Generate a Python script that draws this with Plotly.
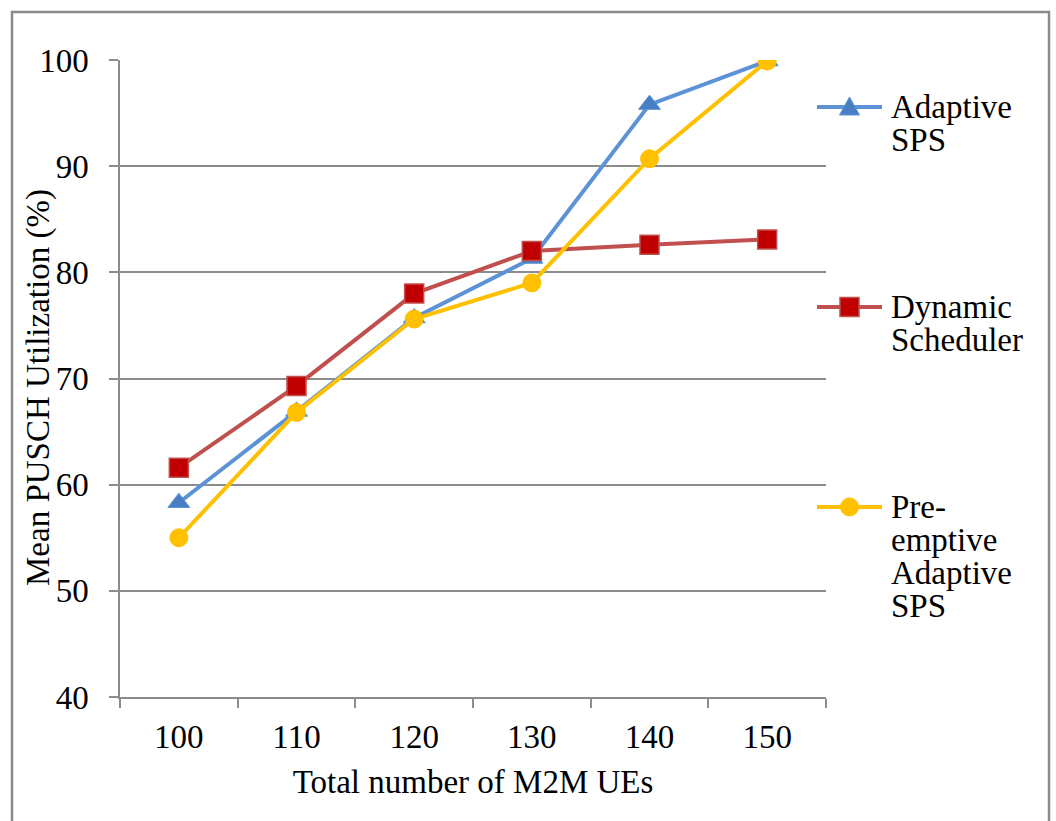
import plotly.graph_objects as go

# Number of M2M UEs (categorical x axis)
ues = ["100", "110", "120", "130", "140", "150"]

# Mean PUSCH utilization (%) per scheduler
adaptive_sps = [58.3, 66.9, 75.7, 81.3, 95.8, 99.9]
dynamic_scheduler = [61.6, 69.3, 78.0, 82.0, 82.6, 83.1]
preemptive_sps = [55.0, 66.8, 75.6, 79.0, 90.7, 99.9]

y_ticks = [40, 50, 60, 70, 80, 90, 100]

# Legend labels, wrapped one word per line
legend_lines = [
    ["Adaptive", "SPS"],
    ["Dynamic", "Scheduler"],
    ["Pre-", "emptive", "Adaptive", "SPS"],
]

FONT = "Liberation Serif"
FS = 33
GRID = "#8c8c8c"

BLUE, BLUE_FILL = "#5B93D6", "#4A7EC4"
RED, RED_FILL = "#C0504D", "#C00000"
GOLD = "#FFC000"

# plot-area geometry in pixels
L, R, T, B = 120, 826, 60, 697
W, H = R - L, B - T


def px_x(x):
    return (x - L) / W


def px_y(y):
    return (B - y) / H


fig = go.Figure()

fig.add_trace(go.Scatter(
    x=ues, y=adaptive_sps, name="Adaptive SPS", mode="lines+markers",
    line=dict(color=BLUE, width=4),
    marker=dict(symbol="triangle-up", size=19, color=BLUE_FILL,
                line=dict(color=BLUE, width=1)),
))
fig.add_trace(go.Scatter(
    x=ues, y=dynamic_scheduler, name="Dynamic Scheduler", mode="lines+markers",
    line=dict(color=RED, width=4),
    marker=dict(symbol="square", size=19, color=RED_FILL,
                line=dict(color=RED, width=1.5)),
))
fig.add_trace(go.Scatter(
    x=ues, y=preemptive_sps, name="Pre-emptive Adaptive SPS", mode="lines+markers",
    line=dict(color=GOLD, width=4),
    marker=dict(symbol="circle", size=18, color=GOLD,
                line=dict(color=GOLD, width=1)),
))

# Right-hand key: sample line + symbol drawn as shapes, wrapped labels as annotations
entry_y = [107, 307, 507]
line_gap = 33
key_x0, key_x1 = 817, 882
key_cx = (key_x0 + key_x1) / 2
styles = [(BLUE, BLUE_FILL, "triangle"), (RED, RED_FILL, "square"), (GOLD, GOLD, "circle")]

shapes = []
annotations = []
for cy, (lc, fc, sym), lines in zip(entry_y, styles, legend_lines):
    shapes.append(dict(type="line", xref="paper", yref="paper",
                       x0=px_x(key_x0), x1=px_x(key_x1), y0=px_y(cy), y1=px_y(cy),
                       line=dict(color=lc, width=4)))
    if sym == "square":
        shapes.append(dict(type="rect", xref="paper", yref="paper",
                           x0=px_x(key_cx - 9.5), x1=px_x(key_cx + 9.5),
                           y0=px_y(cy + 9.5), y1=px_y(cy - 9.5),
                           fillcolor=fc, line=dict(color=lc, width=1.5)))
    elif sym == "circle":
        shapes.append(dict(type="circle", xref="paper", yref="paper",
                           x0=px_x(key_cx - 9), x1=px_x(key_cx + 9),
                           y0=px_y(cy + 9), y1=px_y(cy - 9),
                           fillcolor=fc, line=dict(color=lc, width=1)))
    else:
        path = "M {} {} L {} {} L {} {} Z".format(
            px_x(key_cx), px_y(cy - 10),
            px_x(key_cx + 10), px_y(cy + 8),
            px_x(key_cx - 10), px_y(cy + 8))
        shapes.append(dict(type="path", xref="paper", yref="paper", path=path,
                           fillcolor=fc, line=dict(color=lc, width=1)))
    for k, word in enumerate(lines):
        annotations.append(dict(
            text=word, xref="paper", yref="paper",
            x=px_x(889), y=px_y(cy + k * line_gap),
            xanchor="left", yanchor="middle", showarrow=False,
            font=dict(family=FONT, size=FS, color="black"),
        ))

annotations.append(dict(
    text="Mean PUSCH Utilization (%)", xref="paper", yref="paper",
    x=px_x(38), y=px_y(388), textangle=-90,
    xanchor="center", yanchor="middle", showarrow=False,
    font=dict(family=FONT, size=FS, color="black"),
))

# Outer chart frame (bottom edge runs past the page)
shapes.append(dict(
    type="rect", xref="paper", yref="paper",
    x0=px_x(12), x1=px_x(1049), y0=px_y(840), y1=px_y(12),
    line=dict(color="#8a8a8a", width=2.5), fillcolor="rgba(0,0,0,0)", layer="below",
))

fig.update_layout(
    width=1056, height=821,
    margin=dict(l=L, r=1056 - R, t=T, b=821 - B),
    paper_bgcolor="white", plot_bgcolor="white",
    font=dict(family=FONT, size=FS, color="black"),
    showlegend=False,
    shapes=shapes,
    annotations=annotations,
    xaxis=dict(
        type="category", categoryorder="array", categoryarray=ues,
        range=[-0.5, len(ues) - 0.5],
        showline=True, linecolor=GRID, linewidth=1.5,
        ticks="outside", tickson="boundaries", ticklen=9, tickcolor=GRID, tickwidth=1.5,
        showgrid=False, zeroline=False,
        tickfont=dict(family=FONT, size=FS), ticklabelstandoff=10,
        title=dict(text="Total number of M2M UEs", font=dict(family=FONT, size=FS), standoff=16),
    ),
    yaxis=dict(
        range=[40, 100], tickvals=y_ticks,
        showline=True, linecolor=GRID, linewidth=1.5,
        ticks="outside", ticklen=9, tickcolor=GRID, tickwidth=1.5,
        showgrid=True, gridcolor=GRID, gridwidth=1.5, zeroline=False,
        tickfont=dict(family=FONT, size=FS), ticklabelstandoff=14,
    ),
)

fig.write_html("out.html")
